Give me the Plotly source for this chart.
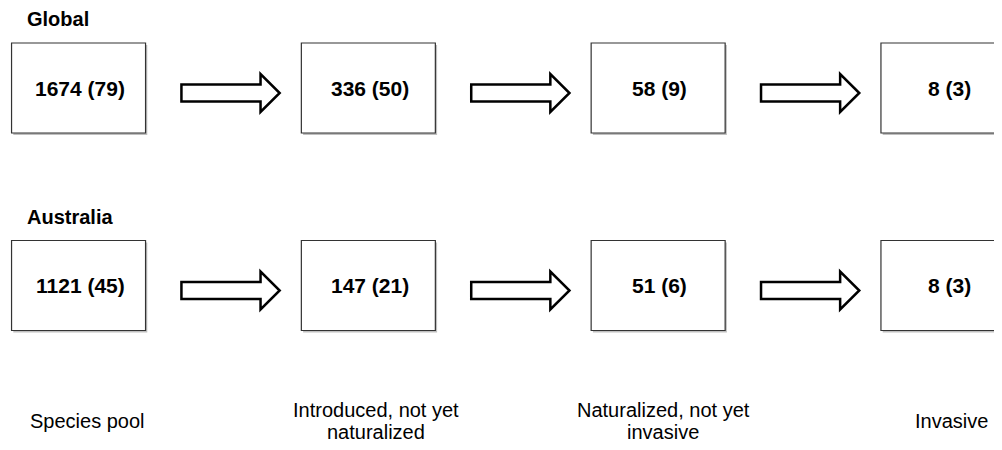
import plotly.graph_objects as go

# ---- data ----
stages = ["Species pool", "Introduced, not yet<br>naturalized",
          "Naturalized, not yet<br>invasive", "Invasive"]
regions = ["Global", "Australia"]
species_counts = {"Global": [1674, 336, 58, 8], "Australia": [1121, 147, 51, 8]}
family_counts = {"Global": [79, 50, 9, 3], "Australia": [45, 21, 6, 3]}

# ---- geometry (layout constants) ----
PAGE_MARGIN = 8          # browser body margin
W, H = 1002 - PAGE_MARGIN, 450 - PAGE_MARGIN
PX_PER_STAGE = 289.8
X0_PX = 78.55
BOX_HW = 67 / PX_PER_STAGE
BOX_HH = 45
ROW_Y0 = 88
ROW_STEP = 197.5
ARROW_START, ARROW_HEAD, ARROW_END = 0.355, 0.628, 0.694
ARROW_DY = 5
SHAFT_HH, HEAD_HH = 8.5, 19
TITLE_X = (25 - X0_PX) / PX_PER_STAGE
LABEL_X0, LABEL_STEP = 87.8, 287.75
LABEL_Y, LINE_GAP = 421, 21.5

FONT = "Liberation Sans, Arial, sans-serif"

fig = go.Figure()
shapes = []
annotations = []

for r, region in enumerate(regions):
    yc = ROW_Y0 + ROW_STEP * r
    annotations.append(dict(x=TITLE_X, y=yc - 69, xref="x", yref="y", text="<b>%s</b>" % region,
                            showarrow=False, xanchor="left", yanchor="middle",
                            font=dict(family=FONT, size=20, color="black")))
    for i, (n, f) in enumerate(zip(species_counts[region], family_counts[region])):
        shapes.append(dict(type="rect", xref="x", yref="y",
                           x0=i - BOX_HW + 0.006, x1=i + BOX_HW + 0.006,
                           y0=yc - BOX_HH + 2, y1=yc + BOX_HH + 2,
                           line=dict(width=0), fillcolor="rgba(0,0,0,0.25)", layer="below"))
        shapes.append(dict(type="rect", xref="x", yref="y",
                           x0=i - BOX_HW, x1=i + BOX_HW, y0=yc - BOX_HH, y1=yc + BOX_HH,
                           line=dict(color="#333333", width=1.2), fillcolor="white", layer="below"))
        annotations.append(dict(x=i + 0.005, y=yc, xref="x", yref="y", text="<b>%d (%d)</b>" % (n, f),
                                showarrow=False, xanchor="center", yanchor="middle",
                                font=dict(family=FONT, size=21, color="black")))
        if i < len(stages) - 1:
            ya = yc + ARROW_DY
            xs, xh, xe = i + ARROW_START, i + ARROW_HEAD, i + ARROW_END
            path = ("M {xs},{a} L {xh},{a} L {xh},{b} L {xe},{ya} L {xh},{c} L {xh},{d} L {xs},{d} Z"
                    .format(xs=xs, xh=xh, xe=xe, ya=ya,
                            a=ya - SHAFT_HH, b=ya - HEAD_HH, c=ya + HEAD_HH, d=ya + SHAFT_HH))
            shapes.append(dict(type="path", xref="x", yref="y", path=path,
                               line=dict(color="black", width=2.5), fillcolor="white"))

for i, s in enumerate(stages):
    lines = s.split("<br>")
    xl = (LABEL_X0 + LABEL_STEP * i - X0_PX) / PX_PER_STAGE
    y_first = LABEL_Y - LINE_GAP * (len(lines) - 1) / 2
    for k, line in enumerate(lines):
        annotations.append(dict(x=xl, y=y_first + k * LINE_GAP, xref="x", yref="y", text=line,
                                showarrow=False, xanchor="center", yanchor="middle",
                                font=dict(family=FONT, size=20, color="black")))

fig.add_trace(go.Scatter(x=[0], y=[ROW_Y0], mode="markers", marker=dict(opacity=0),
                         hoverinfo="skip", showlegend=False))

fig.update_layout(
    width=W, height=H, margin=dict(l=0, r=0, t=0, b=0),
    paper_bgcolor="white", plot_bgcolor="white",
    xaxis=dict(range=[(PAGE_MARGIN - X0_PX) / PX_PER_STAGE, (1002 - X0_PX) / PX_PER_STAGE],
               visible=False, fixedrange=True),
    yaxis=dict(range=[450, PAGE_MARGIN], visible=False, fixedrange=True),
    shapes=shapes, annotations=annotations, showlegend=False,
)

fig.write_html("out.html")
